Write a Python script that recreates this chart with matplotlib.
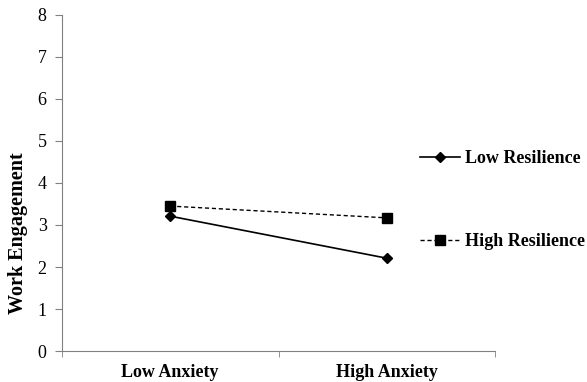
import matplotlib.pyplot as plt
from matplotlib.ticker import FixedLocator

plt.rcParams['font.family'] = ['Liberation Serif', 'DejaVu Serif']

categories = ['Low Anxiety', 'High Anxiety']
low_resilience = [3.21, 2.21]
high_resilience = [3.45, 3.17]

fig = plt.figure(figsize=(5.87, 3.82), dpi=100)
ax = fig.add_axes([0.1056, 0.081, 0.7377, 0.88])

x = [0.5, 1.5]
l1, = ax.plot(x, low_resilience, color='black', linestyle='-', linewidth=1.2,
              marker='D', markersize=5, label='Low Resilience')
l2, = ax.plot(x, high_resilience, color='black', linestyle='--', linewidth=1.0,
              dashes=(3, 2), marker='s', markersize=7, label='High Resilience')

ax.set_xlim(0, 2)
ax.set_ylim(0, 8)
ax.set_yticks(range(0, 9))
ax.set_xticks(x)
ax.set_xticklabels(categories, fontsize=13, fontweight='bold')
ax.xaxis.set_minor_locator(FixedLocator([0, 1, 2]))
ax.tick_params(axis='x', which='major', length=0, pad=9)
ax.tick_params(axis='x', which='minor', length=4, color='#808080', direction='out')
ax.tick_params(axis='y', length=5, color='#808080', labelsize=13, pad=6)
ax.set_ylabel('Work Engagement', fontsize=14.5, fontweight='bold')
ax.yaxis.set_label_coords(-0.078, 0.351)

for s in ['top', 'right']:
    ax.spines[s].set_visible(False)
for s in ['left', 'bottom']:
    ax.spines[s].set_color('#808080')

fig.legend(handles=[l1], loc='center left', bbox_to_anchor=(0.688, 0.584),
           frameon=False, prop={'size': 13, 'weight': 'bold'},
           handlelength=2.2, handletextpad=0.3)
fig.legend(handles=[l2], loc='center left', bbox_to_anchor=(0.688, 0.367),
           frameon=False, prop={'size': 13, 'weight': 'bold'},
           handlelength=2.2, handletextpad=0.3)

fig.savefig('out.png', dpi=100)
